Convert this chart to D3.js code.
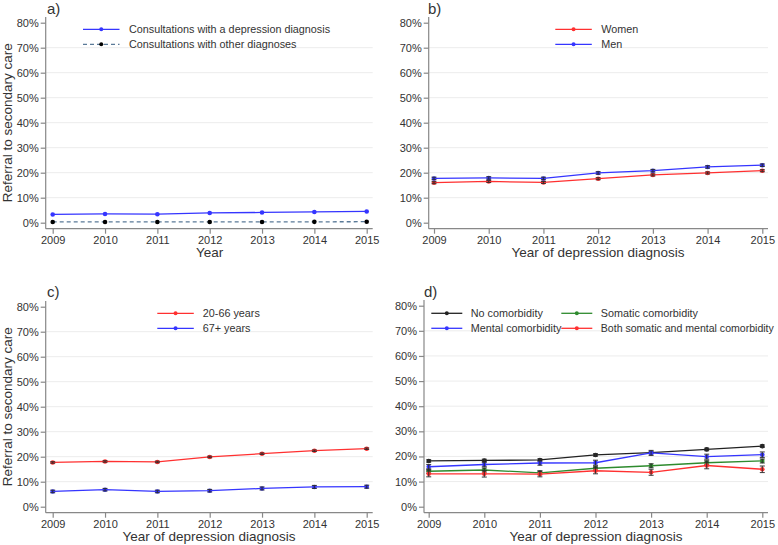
<!DOCTYPE html>
<meta charset="utf-8">
<title>Referral to secondary care</title>
<script src="https://d3js.org/d3.v7.min.js"></script>
<style>
  body { margin: 0; background: #fff; }
  text { font-family: "Liberation Sans", Arial, sans-serif; fill: #333; }
</style>
<body>
</body>
<script>
  const width = 778, height = 545;

  // ---- data (percent) ----
  const years = [2009, 2010, 2011, 2012, 2013, 2014, 2015];
  const yTicks = [0, 10, 20, 30, 40, 50, 60, 70, 80];

  // a) consultations
  const depressionCons = [3.3, 3.5, 3.4, 3.9, 4.1, 4.3, 4.5];
  const otherCons      = [0.3, 0.3, 0.3, 0.3, 0.3, 0.35, 0.4];

  // b) sex
  const women    = [16.0, 16.5, 16.1, 17.6, 19.1, 19.9, 20.8];
  const womenCI  = [0.4, 0.4, 0.4, 0.4, 0.4, 0.4, 0.4];
  const men      = [17.7, 17.9, 17.7, 19.9, 20.8, 22.3, 23.0];
  const menCI    = [0.5, 0.5, 0.5, 0.5, 0.5, 0.5, 0.5];

  // c) age
  const age2066   = [17.7, 18.1, 17.9, 19.9, 21.2, 22.4, 23.2];
  const age2066CI = [0.3, 0.3, 0.3, 0.3, 0.3, 0.3, 0.3];
  const age67     = [6.1, 6.8, 6.1, 6.4, 7.3, 7.9, 8.0];
  const age67CI   = [0.5, 0.5, 0.5, 0.5, 0.6, 0.6, 0.6];

  // d) comorbidity
  const noComorb     = [18.2, 18.4, 18.6, 20.6, 21.5, 22.8, 24.1];
  const noComorbCI   = [0.5, 0.5, 0.5, 0.5, 0.5, 0.5, 0.5];
  const mentalComorb = [15.9, 16.8, 17.4, 17.5, 21.4, 19.9, 20.7];
  const mentalCI     = [0.9, 0.9, 0.9, 1.0, 1.0, 1.0, 1.1];
  const somaticComorb= [14.1, 14.6, 13.5, 15.3, 16.3, 17.5, 18.2];
  const somaticCI    = [0.8, 0.8, 0.8, 0.8, 0.8, 0.8, 0.8];
  const bothComorb   = [13.1, 13.1, 13.0, 14.3, 13.7, 16.4, 14.9];
  const bothCI       = [1.2, 1.3, 1.1, 1.2, 1.2, 1.3, 1.3];

  const BLUE = "#3535ff", RED = "#ff3030", GREEN = "#2e8b2e", BLACK = "#222", DASH = "#5a7a98";

  const svg = d3.select("body").append("svg").attr("width", width).attr("height", height);

  ////////////////////////////////////////////////////////////
  ////////////////////////// Panels //////////////////////////
  ////////////////////////////////////////////////////////////

  const panels = [
    { label: "a)", lx: 47, ly: 14, ax: 45.7, xr: [52.7, 366.7], yr: [222.7, 22.7], xaxY: 228.7, right: 372.7, top: 17,
      ytitle: true, xtitle: "Year", xtX: 209.7, xtY: 257, tickY: 244,
      series: [
        { name: "Consultations with a depression diagnosis", v: depressionCons, color: BLUE },
        { name: "Consultations with other diagnoses", v: otherCons, color: DASH, dash: "4,3" }
      ],
      legend: [{ x: 83, y: 29.3 }, { x: 83, y: 44.3 }], len: 36.5, gap: 9.5 },
    { label: "b)", lx: 428, ly: 14, ax: 428.7, xr: [434, 762.3], yr: [222.7, 22.7], xaxY: 228.7, right: 768, top: 17,
      ytitle: false, xtitle: "Year of depression diagnosis", xtX: 598, xtY: 257, tickY: 244,
      series: [
        { name: "Women", v: women, ci: womenCI, color: RED },
        { name: "Men", v: men, ci: menCI, color: BLUE }
      ],
      legend: [{ x: 555.3, y: 29.3 }, { x: 555.3, y: 44.3 }], len: 36.5, gap: 9.5 },
    { label: "c)", lx: 47, ly: 297, ax: 45.7, xr: [52.7, 366.7], yr: [506.7, 306.7], xaxY: 512.7, right: 372.7, top: 301,
      ytitle: true, xtitle: "Year of depression diagnosis", xtX: 209, xtY: 541, tickY: 528,
      series: [
        { name: "20-66 years", v: age2066, ci: age2066CI, color: RED },
        { name: "67+ years", v: age67, ci: age67CI, color: BLUE }
      ],
      legend: [{ x: 157.3, y: 313.3 }, { x: 157.3, y: 328.3 }], len: 36.5, gap: 9 },
    { label: "d)", lx: 424, ly: 297, ax: 424, xr: [428.7, 762.3], yr: [506.7, 305.7], xaxY: 512.7, right: 768, top: 300,
      ytitle: false, xtitle: "Year of depression diagnosis", xtX: 596, xtY: 541, tickY: 528,
      series: [
        { name: "No comorbidity", v: noComorb, ci: noComorbCI, color: BLACK },
        { name: "Somatic comorbidity", v: somaticComorb, ci: somaticCI, color: GREEN },
        { name: "Mental comorbidity", v: mentalComorb, ci: mentalCI, color: BLUE },
        { name: "Both somatic and mental comorbidity", v: bothComorb, ci: bothCI, color: RED }
      ],
      legend: [{ x: 431.3, y: 313.3 }, { x: 561.3, y: 313.3 }, { x: 431.3, y: 328.3 }, { x: 561.3, y: 328.3 }],
      len: 31, gap: 8.5, maxText: 173 }
  ];

  panels.forEach(p => {
    const x = d3.scaleLinear().domain([2009, 2015]).range(p.xr);
    const y = d3.scaleLinear().domain([0, 80]).range(p.yr);
    const g = svg.append("g");

    // gridlines
    g.append("g").selectAll("line")
      .data(yTicks.filter(t => t > 0 && t < 80))
      .join("line")
      .attr("x1", p.ax).attr("x2", p.right)
      .attr("y1", d => y(d)).attr("y2", d => y(d))
      .attr("stroke", "#ececec").attr("stroke-width", 1);

    // y axis
    const yAxis = g.append("g").attr("transform", `translate(${p.ax},0)`)
      .call(d3.axisLeft(y).tickValues(yTicks).tickFormat(d => d + "%").tickSize(5).tickPadding(2));
    yAxis.select(".domain").remove();
    yAxis.selectAll("line").attr("stroke", "#888").attr("stroke-width", 1.2);
    yAxis.selectAll("text").style("font-size", "11px").attr("fill", "#333");
    g.append("line").attr("x1", p.ax).attr("x2", p.ax).attr("y1", p.top).attr("y2", p.xaxY)
      .attr("stroke", "#888").attr("stroke-width", 1.2);

    // x axis
    const xAxis = g.append("g").attr("transform", `translate(0,${p.xaxY})`)
      .call(d3.axisBottom(x).tickValues(years).tickFormat(d3.format("d")).tickSize(5).tickPadding(3));
    xAxis.select(".domain").remove();
    xAxis.selectAll("line").attr("stroke", "#888").attr("stroke-width", 1.2);
    xAxis.selectAll("text").style("font-size", "11px").attr("fill", "#333");
    g.append("line").attr("x1", p.ax).attr("x2", p.right).attr("y1", p.xaxY).attr("y2", p.xaxY)
      .attr("stroke", "#888").attr("stroke-width", 1.2);

    // titles
    g.append("text").attr("x", p.xtX).attr("y", p.xtY).attr("text-anchor", "middle")
      .style("font-size", "13.5px").text(p.xtitle);
    if (p.ytitle) {
      const cy = (p.yr[0] + p.yr[1]) / 2;
      g.append("text").attr("transform", `translate(12,${cy}) rotate(-90)`)
        .attr("text-anchor", "middle").style("font-size", "13.5px").text("Referral to secondary care");
    }
    g.append("text").attr("x", p.lx).attr("y", p.ly).style("font-size", "15px").attr("fill", "#222").text(p.label);

    // series
    const line = d3.line().x((d, i) => x(years[i])).y(d => y(d));
    p.series.forEach(s => {
      g.append("path").datum(s.v)
        .attr("d", line).attr("fill", "none")
        .attr("stroke", s.color).attr("stroke-width", 1.3)
        .attr("stroke-dasharray", s.dash || null);

      g.append("g").selectAll("circle").data(s.v).join("circle")
        .attr("cx", (d, i) => x(years[i])).attr("cy", d => y(d))
        .attr("r", 2.3).attr("fill", s.dash ? "#000" : s.color);

      if (s.ci) {
        const eb = g.append("g").attr("stroke", "#2a2a2a").attr("stroke-width", 1.1).attr("stroke-opacity", 0.85);
        s.v.forEach((d, i) => {
          const cx = x(years[i]);
          const lo = y(d - s.ci[i]), hi = y(d + s.ci[i]);
          eb.append("line").attr("x1", cx).attr("x2", cx).attr("y1", lo).attr("y2", hi);
          eb.append("line").attr("x1", cx - 2.5).attr("x2", cx + 2.5).attr("y1", lo).attr("y2", lo);
          eb.append("line").attr("x1", cx - 2.5).attr("x2", cx + 2.5).attr("y1", hi).attr("y2", hi);
        });
      }
    });

    // legend
    p.series.forEach((s, i) => {
      const L = p.legend[i];
      const lg = g.append("g").attr("transform", `translate(${L.x},${L.y})`);
      lg.append("line").attr("x1", 0).attr("x2", p.len).attr("y1", 0).attr("y2", 0)
        .attr("stroke", s.color).attr("stroke-width", 1.3).attr("stroke-dasharray", s.dash || null);
      lg.append("circle").attr("cx", p.len / 2).attr("cy", 0).attr("r", 2)
        .attr("fill", s.dash ? "#000" : s.color);
      const t = lg.append("text").attr("x", p.len + p.gap).attr("y", 0).attr("dy", "0.35em")
        .style("font-size", "10.8px").text(s.name);
      if (p.maxText && t.node().getComputedTextLength() > p.maxText) {
        t.attr("textLength", p.maxText).attr("lengthAdjust", "spacingAndGlyphs");
      }
    });
  });
</script>
